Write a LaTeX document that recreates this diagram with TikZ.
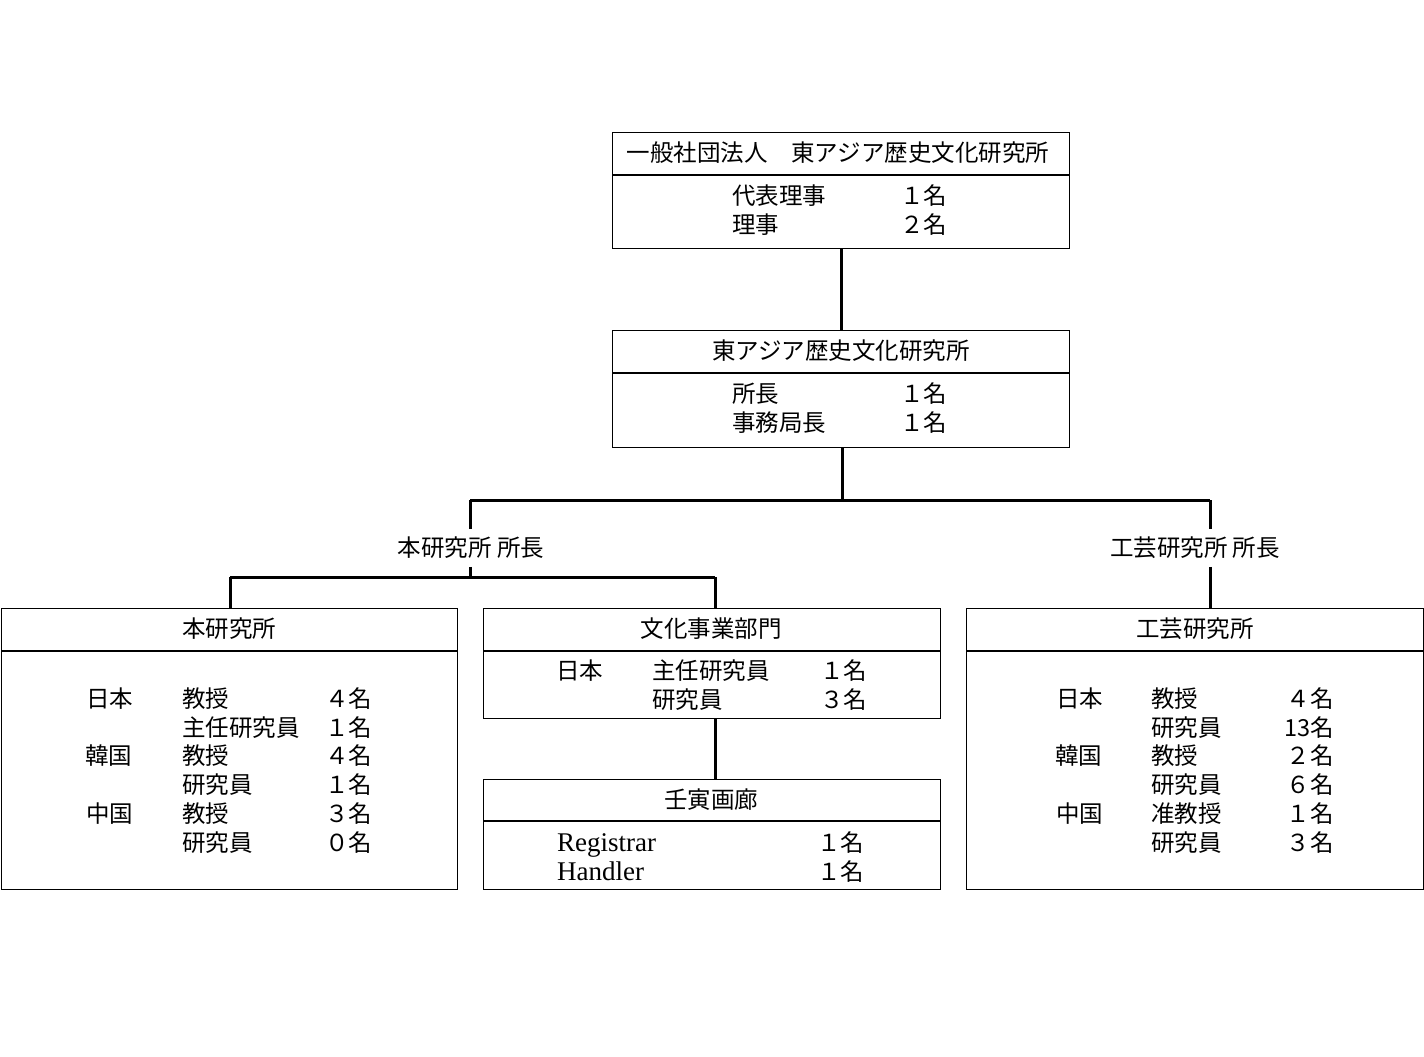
\documentclass[tikz,border=0pt]{standalone}
\usepackage{fontspec}
\setmainfont{Liberation Serif}
\newfontfamily\jp{Noto Sans CJK JP}
\begin{document}
\begin{tikzpicture}[x=1pt,y=-1pt,
  box/.style={draw, line width=1pt, anchor=north west, inner sep=0pt, minimum width=457pt},
  divider/.style={line width=1.1pt},
  conn/.style={line width=3pt},
  txt/.style={inner sep=0pt, text height=20.5pt, text depth=2.8pt, font=\jp\fontsize{23.5}{28}\selectfont},
  ltxt/.style={txt, font=\fontsize{27}{31}\selectfont},
  lbl/.style={txt, inner ysep=7pt, inner xsep=2pt, fill=white}]
\useasboundingbox[fill=white] (0,0) rectangle (1424,1057);

% ---------- Box A ----------
\node[box, minimum height=116pt] (A) at (612,132) {};
\draw[divider] (A.west |- 0,175) -- (A.east |- 0,175);
\node[txt] (At) at (838,153) {一般社団法人　東アジア歴史文化研究所};
\node[txt, anchor=west] (A1) at (732,196) {代表理事};
\node[txt, anchor=west] (A2) at (732,225) {理事};
\node[txt, anchor=west] (A1n) at (900,196) {１名};
\node[txt, anchor=west] (A2n) at (900,225) {２名};

% ---------- Box B ----------
\node[box, minimum height=117pt] (B) at (612,330) {};
\draw[divider] (B.west |- 0,373) -- (B.east |- 0,373);
\node[txt] (Bt) at (841,351) {東アジア歴史文化研究所};
\node[txt, anchor=west] (B1) at (732,394) {所長};
\node[txt, anchor=west] (B2) at (732,423) {事務局長};
\node[txt, anchor=west] (B1n) at (900,394) {１名};
\node[txt, anchor=west] (B2n) at (900,423) {１名};

% ---------- Box C ----------
\node[box, minimum height=281pt, minimum width=456pt] (C) at (1,608) {};
\draw[divider] (C.west |- 0,651) -- (C.east |- 0,651);
\node[txt] (Ct) at (229,629) {本研究所};
\node[txt, anchor=west] (C1c) at (86,699) {日本};
\node[txt, anchor=west] (C3c) at (85,756) {韓国};
\node[txt, anchor=west] (C5c) at (86,814) {中国};
\node[txt, anchor=west] (C1) at (182,699) {教授};
\node[txt, anchor=west] (C2) at (182,728) {主任研究員};
\node[txt, anchor=west] (C3) at (182,756) {教授};
\node[txt, anchor=west] (C4) at (182,785) {研究員};
\node[txt, anchor=west] (C5) at (182,814) {教授};
\node[txt, anchor=west] (C6) at (182,843) {研究員};
\node[txt, anchor=west] (C1n) at (325,699) {４名};
\node[txt, anchor=west] (C2n) at (325,728) {１名};
\node[txt, anchor=west] (C3n) at (325,756) {４名};
\node[txt, anchor=west] (C4n) at (325,785) {１名};
\node[txt, anchor=west] (C5n) at (325,814) {３名};
\node[txt, anchor=west] (C6n) at (325,843) {０名};

% ---------- Box D ----------
\node[box, minimum height=110pt] (D) at (483,608) {};
\draw[divider] (D.west |- 0,651) -- (D.east |- 0,651);
\node[txt] (Dt) at (711,629) {文化事業部門};
\node[txt, anchor=west] (D1c) at (556,671) {日本};
\node[txt, anchor=west] (D1) at (652,671) {主任研究員};
\node[txt, anchor=west] (D2) at (652,700) {研究員};
\node[txt, anchor=west] (D1n) at (820,671) {１名};
\node[txt, anchor=west] (D2n) at (820,700) {３名};

% ---------- Box E ----------
\node[box, minimum height=110pt] (E) at (483,779) {};
\draw[divider] (E.west |- 0,821) -- (E.east |- 0,821);
\node[txt] (Et) at (711,800) {壬寅画廊};
\node[ltxt, anchor=west] (E1) at (557,843) {Registrar};
\node[ltxt, anchor=west] (E2) at (557,872) {Handler};
\node[txt, anchor=west] (E1n) at (817,843) {１名};
\node[txt, anchor=west] (E2n) at (817,872) {１名};

% ---------- Box F ----------
\node[box, minimum height=281pt] (F) at (966,608) {};
\draw[divider] (F.west |- 0,651) -- (F.east |- 0,651);
\node[txt] (Ft) at (1195,629) {工芸研究所};
\node[txt, anchor=west] (F1c) at (1056,699) {日本};
\node[txt, anchor=west] (F3c) at (1055,756) {韓国};
\node[txt, anchor=west] (F5c) at (1056,814) {中国};
\node[txt, anchor=west] (F1) at (1151,699) {教授};
\node[txt, anchor=west] (F2) at (1151,728) {研究員};
\node[txt, anchor=west] (F3) at (1151,756) {教授};
\node[txt, anchor=west] (F4) at (1151,785) {研究員};
\node[txt, anchor=west] (F5) at (1151,814) {准教授};
\node[txt, anchor=west] (F6) at (1151,843) {研究員};
\node[txt, anchor=east] (F1n) at (1334,699) {４名};
\node[txt, anchor=east] (F2n) at (1334,728) {13名};
\node[txt, anchor=east] (F3n) at (1334,756) {２名};
\node[txt, anchor=east] (F4n) at (1334,785) {６名};
\node[txt, anchor=east] (F5n) at (1334,814) {１名};
\node[txt, anchor=east] (F6n) at (1334,843) {３名};

% ---------- connectors ----------
\coordinate (jB) at (842,500);
\coordinate (jL) at (470,500);
\coordinate (jR) at (1210,500);
\coordinate (jL2) at (470,577);
\coordinate (jC) at (230,577);
\coordinate (jD) at (715,577);

\draw[conn] (A.south) -- (B.north);
\draw[conn] (B.south -| jB) -- (jB);
\draw[conn] (jL) -- (jR);
\node[lbl] (lblL) at (471,548) {本研究所 所長};
\node[lbl] (lblR) at (1195,548) {工芸研究所 所長};
\draw[conn] (jL) -- (jL |- lblL.north);
\draw[conn] (jL |- lblL.south) -- (jL2);
\draw[conn] (jC) -- (jD);
\draw[conn] (jC) -- (jC |- C.north);
\draw[conn] (jD) -- (jD |- D.north);
\draw[conn] (jR) -- (jR |- lblR.north);
\draw[conn] (jR |- lblR.south) -- (jR |- F.north);
\draw[conn] (D.south -| jD) -- (jD |- E.north);
\end{tikzpicture}
\end{document}
